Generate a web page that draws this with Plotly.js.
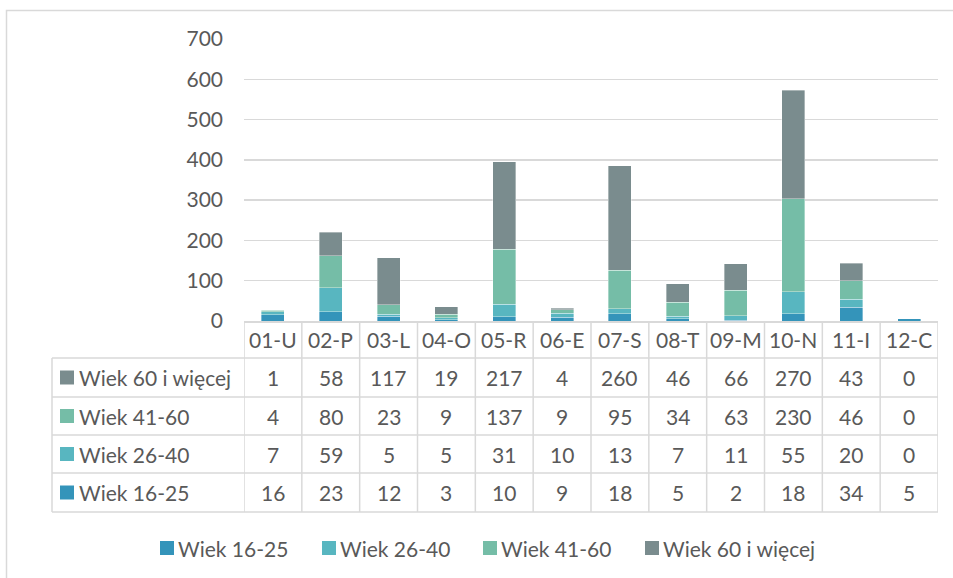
<!DOCTYPE html>
<html>
<head>
<meta charset="utf-8">
<script src="https://cdn.plot.ly/plotly-3.0.1.min.js"></script>
<style>html,body{margin:0;padding:0;background:#fff;}#chart{width:953px;height:578px;}</style>
</head>
<body>
<div id="chart"></div>
<script>
const categories = ["01-U","02-P","03-L","04-O","05-R","06-E","07-S","08-T","09-M","10-N","11-I","12-C"];
const seriesNames = ["Wiek 16-25","Wiek 26-40","Wiek 41-60","Wiek 60 i więcej"];
const age16_25 = [16,23,12,3,10,9,18,5,2,18,34,5];
const age26_40 = [7,59,5,5,31,10,13,7,11,55,20,0];
const age41_60 = [4,80,23,9,137,9,95,34,63,230,46,0];
const age60plus = [1,58,117,19,217,4,260,46,66,270,43,0];
const seriesColors = ["#3494BA","#58B6C0","#75BDA7","#7A8C8E"];
const yTicks = [0,100,200,300,400,500,600,700];

const seriesValues = [age16_25, age26_40, age41_60, age60plus];

const W = 953, H = 578;
const PL = 244, PR = 938, PT = 39, PB = 321;
const px = x => (x - PL) / (PR - PL);
const py = y => (PB - y) / (PB - PT);
const FONT = "Lato, 'Open Sans', sans-serif";
const FS = 21;
const TXT = "#595959";
const LINE = "#D9D9D9";

const traces = seriesValues.map((vals, i) => ({
  type: "bar",
  x: categories,
  y: vals,
  name: seriesNames[i],
  marker: {color: seriesColors[i], line: {color: "rgba(255,255,255,0.45)", width: 0.8}},
  width: 0.4,
  showlegend: false,
  hoverinfo: "skip"
}));

const shapes = [];
const annotations = [];

// outer chart border
shapes.push({type:"rect", xref:"paper", yref:"paper", x0:px(6.5), x1:px(970), y0:py(10.5), y1:py(600), line:{color:LINE, width:1.5}});

// table geometry
const rowEdges = [358, 397, 435, 473, 512];
const tableLeft = 52;
rowEdges.forEach(y => {
  shapes.push({type:"line", xref:"paper", yref:"paper", x0:px(tableLeft), x1:px(PR), y0:py(y), y1:py(y), line:{color:LINE, width:1.5}});
});
shapes.push({type:"line", xref:"paper", yref:"paper", x0:px(tableLeft), x1:px(tableLeft), y0:py(358), y1:py(512), line:{color:LINE, width:1.5}});
for (let k = 0; k <= categories.length; k++) {
  shapes.push({type:"line", xref:"x", yref:"paper", x0:k-0.5, x1:k-0.5, y0:py(PB), y1:py(512), line:{color:LINE, width:1.5}});
}

// header row
categories.forEach(c => {
  annotations.push({xref:"x", yref:"paper", x:c, y:py(339.5), text:c, showarrow:false, xanchor:"center", yanchor:"middle", font:{family:FONT, size:FS, color:TXT}});
});

// data rows (top row = last series)
const rowCenters = [377.5, 416, 454, 492.5];
for (let r = 0; r < 4; r++) {
  const si = 3 - r;
  const yc = rowCenters[r];
  shapes.push({type:"rect", xref:"paper", yref:"paper", x0:px(60), x1:px(74), y0:py(yc-7), y1:py(yc+7), fillcolor:seriesColors[si], line:{width:0}});
  annotations.push({xref:"paper", yref:"paper", x:px(77), y:py(yc), text:seriesNames[si], showarrow:false, xanchor:"left", yanchor:"middle", font:{family:FONT, size:FS, color:TXT}});
  categories.forEach((c, j) => {
    annotations.push({xref:"x", yref:"paper", x:c, y:py(yc), text:String(seriesValues[si][j]), showarrow:false, xanchor:"center", yanchor:"middle", font:{family:FONT, size:FS, color:TXT}});
  });
}

// legend
const legendX = [160, 322, 483, 645];
const legendY = 548;
seriesNames.forEach((n, i) => {
  shapes.push({type:"rect", xref:"paper", yref:"paper", x0:px(legendX[i]), x1:px(legendX[i]+14), y0:py(legendY-7), y1:py(legendY+7), fillcolor:seriesColors[i], line:{width:0}});
  annotations.push({xref:"paper", yref:"paper", x:px(legendX[i]+16), y:py(legendY), text:n, showarrow:false, xanchor:"left", yanchor:"middle", font:{family:FONT, size:FS, color:TXT}});
});

const layout = {
  width: W, height: H,
  margin: {l: PL, r: W - PR, t: PT, b: H - PB, pad: 0},
  paper_bgcolor: "#fff", plot_bgcolor: "#fff",
  barmode: "stack",
  bargap: 0.6,
  font: {family: FONT, color: TXT},
  xaxis: {type:"category", range:[-0.5, 11.5], showticklabels:false, ticks:"", showgrid:false, zeroline:false, showline:true, linecolor:LINE, linewidth:1.5, fixedrange:true},
  yaxis: {range:[0,700], tickvals:yTicks, ticktext:yTicks.map(String), ticks:"", ticklabelstandoff:20, showgrid:true, gridcolor:LINE, gridwidth:1.5, zeroline:false, showline:false, tickfont:{family:FONT, size:FS, color:TXT}, fixedrange:true},
  shapes: shapes,
  annotations: annotations,
  showlegend: false
};

Plotly.newPlot("chart", traces, layout, {staticPlot: true, displayModeBar: false});
</script>
</body>
</html>
